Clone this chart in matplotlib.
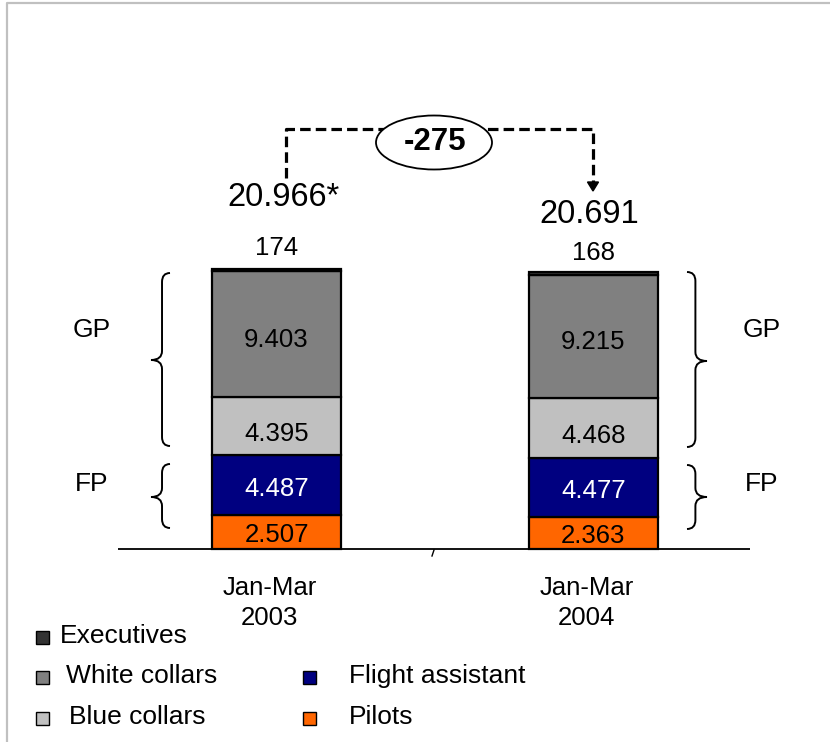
import matplotlib
matplotlib.use("Agg")
import matplotlib.pyplot as plt
from matplotlib.patches import Rectangle, Ellipse, PathPatch, Polygon
from matplotlib.path import Path
from matplotlib.transforms import Affine2D

plt.rcParams["font.family"] = ["Liberation Sans", "DejaVu Sans"]

# ---- data -------------------------------------------------------------
periods = ["Jan-Mar\n2003", "Jan-Mar\n2004"]
pilots = [2507, 2363]
flight_assistant = [4487, 4477]
blue_collars = [4395, 4468]
white_collars = [9403, 9215]
executives = [174, 168]
total_labels = ["20.966*", "20.691"]
change_label = "-275"
group_labels = ["GP", "FP"]

series = [
    ("Pilots", pilots, "#FF6600", "black"),
    ("Flight assistant", flight_assistant, "#000080", "white"),
    ("Blue collars", blue_collars, "#C0C0C0", "black"),
    ("White collars", white_collars, "#808080", "black"),
    ("Executives", executives, "#333333", "black"),
]


def fmt(v):
    return f"{v:,}".replace(",", ".")


# ---- figure / axes ----------------------------------------------------
W, H = 830, 742
fig = plt.figure(figsize=(W / 100, H / 100), dpi=100)
ax = fig.add_axes([0, 0, 1, 1])
ax.axis("off")

# pixel-space transform (origin top-left) for decorations
px = Affine2D().scale(1 / W, -1 / H).translate(0, 1) + fig.transFigure

base_px = 549.0
yscale = 278.0 / 20792.0          # pixels per employee
sep = 316.8                       # pixels between bar centres
x0 = 276.5
ax.set_xlim(-x0 / sep, (W - x0) / sep)
ax.set_ylim(-(H - base_px) / yscale, base_px / yscale)

x = [0, 1]
bar_w = 129 / sep

FS = 18.5

# ---- stacked bars -----------------------------------------------------
bottoms = [0, 0]
label_shift = {"Pilots": -3, "Flight assistant": -4, "Blue collars": -8,
               "White collars": -6}
for name, vals, color, tcolor in series:
    ax.bar(x, vals, bottom=bottoms, width=bar_w, color=color,
           edgecolor="black", linewidth=1.6, zorder=2)
    for i in range(2):
        if name == "Executives":
            top = bottoms[i] + vals[i]
            ax.annotate(fmt(vals[i]), (x[i], top), xytext=(0, 21 if i == 0 else 19),
                        textcoords="offset pixels", ha="center", va="center",
                        fontsize=FS, color=tcolor)
        else:
            ax.annotate(fmt(vals[i]), (x[i], bottoms[i] + vals[i] / 2),
                        xytext=(0, label_shift[name]), textcoords="offset pixels",
                        ha="center", va="center", fontsize=FS, color=tcolor,
                        zorder=3)
    bottoms = [b + v for b, v in zip(bottoms, vals)]

totals = bottoms
# totals above the bars
for i, (t, lab) in enumerate(zip(totals, total_labels)):
    ax.annotate(lab, (x[i], t), xytext=(7 if i == 0 else -4, 71 if i == 0 else 58),
                textcoords="offset pixels", ha="center", va="center",
                fontsize=23.5)

# category labels under the baseline
for i, p in enumerate(periods):
    ax.annotate(p, (x[i], 0), xytext=(-7, -54), textcoords="offset pixels",
                ha="center", va="center", fontsize=FS, linespacing=1.35)

# baseline
ax.plot([118, 750], [base_px, base_px], color="black", lw=1.3, transform=px,
        solid_capstyle="butt")
ax.plot([434, 432], [550, 556], color="black", lw=1.0, transform=px)

# ---- dashed change connector ------------------------------------------
ax.plot([286, 286, 593, 593], [178, 129, 129, 183], color="black", lw=2.3,
        linestyle=(0, (3.3, 1.6)), transform=px, zorder=4)
ax.add_patch(Polygon([[587.5, 182], [598.5, 182], [593, 191]], closed=True,
                     facecolor="black", edgecolor="black", transform=px, zorder=4))
ax.add_patch(Ellipse((434, 142.5), 116, 54, facecolor="white", edgecolor="black",
                     lw=1.3, transform=px, zorder=5))
ax.text(435, 142, change_label, transform=px, ha="center", va="center",
        fontsize=22.5, fontweight="bold", zorder=6)


# ---- curly braces -------------------------------------------------------
def brace(x_end, x_tip, y0, y1, ytip, r=9):
    xm = x_tip + 0.58 * (x_end - x_tip)
    verts = [(x_end, y0), (xm, y0), (xm, y0 + r),
             (xm, ytip - r), (xm, ytip), (x_tip, ytip),
             (xm, ytip), (xm, ytip + r),
             (xm, y1 - r), (xm, y1), (x_end, y1)]
    codes = [Path.MOVETO, Path.CURVE3, Path.CURVE3,
             Path.LINETO, Path.CURVE3, Path.CURVE3,
             Path.CURVE3, Path.CURVE3,
             Path.LINETO, Path.CURVE3, Path.CURVE3]
    ax.add_patch(PathPatch(Path(verts, codes), facecolor="none",
                           edgecolor="black", lw=1.4, transform=px))


brace(170, 151, 273, 446, 360)
brace(170, 151, 464, 528, 497)
brace(687, 707, 272, 447, 361)
brace(687, 707, 465, 529, 497)

for xp in (92, 762):
    ax.text(xp, 330, group_labels[0], transform=px, ha="center", va="center",
            fontsize=19)
    ax.text(xp, 484, group_labels[1], transform=px, ha="center", va="center",
            fontsize=19)

# ---- legend -------------------------------------------------------------
legend_items = [
    ("Executives", "#333333", 36, 636, 60),
    ("White collars", "#808080", 36, 676, 66),
    ("Blue collars", "#C0C0C0", 36, 717, 69),
    ("Flight assistant", "#000080", 303, 676, 349),
    ("Pilots", "#FF6600", 303, 717, 349),
]
for lab, col, sx, yc, tx in legend_items:
    ax.add_patch(Rectangle((sx, yc - 5), 13, 13, facecolor=col, edgecolor="black",
                           lw=1.0, transform=px))
    ax.text(tx, yc, lab, transform=px, ha="left", va="center", fontsize=19)

# ---- frame --------------------------------------------------------------
ax.plot([7, 7, W], [H, 3, 3], color="#C0C0C0", lw=1.6, transform=px)

fig.savefig("out.png", dpi=100)
